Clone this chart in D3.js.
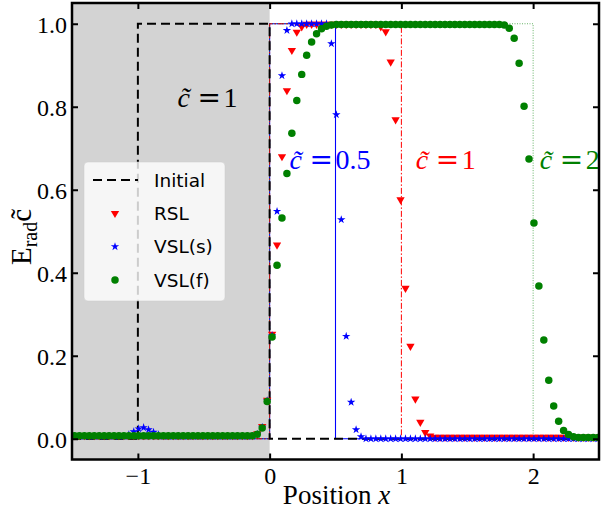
<!DOCTYPE html>
<html><head><meta charset="utf-8">
<script src="https://cdn.jsdelivr.net/npm/d3@7"></script>
<style>body{margin:0;background:#fff;} svg{display:block;}</style>
</head><body>
<script>
// ---------- data ----------
const cellStart = -1.5, cellWidth = 0.0375;   // cell-centred grid of the solver
const rslY = [
0.008,0.008,0.008,0.008,0.008,0.008,0.008,0.008,0.008,0.008,
0.008,0.008,0.008,0.008,0.008,0.008,0.008,0.008,0.008,0.008,
0.008,0.008,0.008,0.008,0.008,0.008,0.008,0.008,0.008,0.008,
0.008,0.008,0.008,0.008,0.008,0.008,0.008,0.012,0.030,0.093,
0.252,0.467,0.680,0.839,0.936,0.980,0.993,0.999,0.999,0.999,
0.999,0.999,0.999,0.999,0.999,0.999,0.999,0.999,0.999,0.999,
0.999,0.999,0.993,0.981,0.908,0.769,0.576,0.363,0.223,0.096,
0.040,0.015,0.007,0.004,0.004,0.004,0.004,0.004,0.004,0.004,
0.004,0.004,0.004,0.004,0.004,0.004,0.004,0.004,0.004,0.004,
0.004,0.004,0.004,0.004,0.004,0.004,0.004,0.004,0.004,0.004,
0.004,0.004,0.004,0.004,0.004,0.004,0.004];
const vslSY = [
0.006,0.006,0.006,0.006,0.006,0.006,0.006,0.006,0.006,0.006,
0.006,0.010,0.017,0.024,0.027,0.022,0.016,0.010,0.006,0.006,
0.006,0.006,0.006,0.006,0.006,0.006,0.006,0.006,0.006,0.006,
0.006,0.006,0.006,0.006,0.006,0.006,0.006,0.011,0.028,0.092,
0.249,0.548,0.875,0.984,1.000,1.000,1.000,1.000,1.000,1.000,
1.000,1.000,0.952,0.781,0.528,0.247,0.088,0.022,0.005,0.000,
0.000,0.000,0.000,0.000,0.000,0.000,0.000,0.000,0.000,0.000,
0.000,0.000,0.000,0.000,0.000,0.000,0.000,0.000,0.000,0.000,
0.000,0.000,0.000,0.000,0.000,0.000,0.000,0.000,0.000,0.000,
0.000,0.000,0.000,0.000,0.000,0.000,0.000,0.000,0.000,0.000,
0.000,0.000,0.000,0.000,0.000,0.000,0.000];
const vslFY = [
0.007,0.007,0.007,0.007,0.007,0.007,0.007,0.007,0.007,0.007,
0.007,0.007,0.007,0.007,0.007,0.007,0.007,0.007,0.007,0.007,
0.007,0.007,0.007,0.007,0.007,0.007,0.007,0.007,0.007,0.007,
0.007,0.007,0.007,0.007,0.007,0.007,0.007,0.011,0.026,0.090,
0.245,0.418,0.532,0.639,0.736,0.815,0.878,0.924,0.956,0.976,
0.988,0.994,0.997,0.998,0.998,0.998,0.998,0.998,0.998,0.998,
0.998,0.998,0.998,0.998,0.998,0.998,0.998,0.998,0.998,0.998,
0.998,0.998,0.998,0.998,0.998,0.998,0.998,0.998,0.998,0.998,
0.998,0.998,0.998,0.998,0.998,0.998,0.998,0.997,0.989,0.965,
0.905,0.801,0.674,0.520,0.368,0.238,0.141,0.079,0.042,0.020,
0.010,0.005,0.003,0.003,0.003,0.003,0.003];

const initialX = [-1.5, -1, -1, 0, 0, 2.5];
const initialY = [0, 0, 1, 1, 0, 0];
const exactY   = [0, 0, 1, 1, 0, 0];
const exactHalfX = [-1.5, 0, 0, 0.5, 0.5, 2.5];
const exactOneX  = [-1.5, 0, 0, 1, 1, 2.5];
const exactTwoX  = [-1.5, 0, 0, 2, 2, 2.5];
const shadeX = [-1.5, 0];
const xTicks = [-1, 0, 1, 2];
const yTicks = [0, 0.2, 0.4, 0.6, 0.8, 1.0];
const legendLabels = ["Initial", "RSL", "VSL(s)", "VSL(f)"];
const annotations = [
  {x: -0.7, y: 0.80, val: "1", color: "#000000"},
  {x: 0.15, y: 0.65, val: "0.5", color: "#0000ff"},
  {x: 1.11, y: 0.65, val: "1", color: "#ff0000"},
  {x: 2.05, y: 0.65, val: "2", color: "#008000"}
];

// ---------- layout ----------
const W = 605, H = 511;
const m = {left: 72, right: 599, top: 3, bottom: 459.5};
const svg = d3.select("body").append("svg").attr("width", W).attr("height", H);
const x = d3.scaleLinear().domain([-1.5, 2.5]).range([m.left, m.right]);
const y = d3.scaleLinear().domain([-0.05, 1.05]).range([m.bottom, m.top]);
const serif = "'Liberation Serif','Times New Roman',serif";
const sans = "'DejaVu Sans',sans-serif";

svg.append("defs").append("clipPath").attr("id", "clip")
  .append("rect").attr("x", m.left).attr("y", m.top)
  .attr("width", m.right - m.left).attr("height", m.bottom - m.top);

const plot = svg.append("g").attr("clip-path", "url(#clip)");

// shaded region
plot.append("rect").attr("x", x(shadeX[0])).attr("y", m.top)
  .attr("width", x(shadeX[1]) - x(shadeX[0])).attr("height", m.bottom - m.top)
  .attr("fill", "#d3d3d3");

const line = d3.line().x(d => x(d[0])).y(d => y(d[1]));
const zipXY = (xs, ys) => xs.map((v, i) => [v, ys[i]]);

plot.append("path").attr("d", line(zipXY(exactHalfX, exactY)))
  .attr("fill", "none").attr("stroke", "#0000ff").attr("stroke-width", 1.1);
plot.append("path").attr("d", line(zipXY(exactOneX, exactY)))
  .attr("fill", "none").attr("stroke", "#ff0000").attr("stroke-width", 1)
  .attr("stroke-dasharray", "6,2,1.5,2");
plot.append("path").attr("d", line(zipXY(exactTwoX, exactY)))
  .attr("fill", "none").attr("stroke", "#008000").attr("stroke-opacity", 0.6)
  .attr("stroke-width", 1).attr("stroke-dasharray", "1,1.5");
plot.append("path").attr("d", line(zipXY(initialX, initialY)))
  .attr("fill", "none").attr("stroke", "#000").attr("stroke-width", 2)
  .attr("stroke-dasharray", "9,5");

const cellX = i => cellStart + (i + 0.5) * cellWidth;
const triSym = d3.symbol().type(d3.symbolTriangle).size(30);
const starSym = d3.symbol().type(d3.symbolStar).size(22);
const circSym = d3.symbol().type(d3.symbolCircle).size(44);

plot.append("g").selectAll("path").data(rslY).join("path")
  .attr("d", triSym)
  .attr("transform", (d, i) => `translate(${x(cellX(i))},${y(d)}) rotate(180)`)
  .attr("fill", "#ff0000");
plot.append("g").selectAll("path").data(vslSY).join("path")
  .attr("d", starSym)
  .attr("transform", (d, i) => `translate(${x(cellX(i))},${y(d)})`)
  .attr("fill", "#0000ff");
plot.append("g").selectAll("path").data(vslFY).join("path")
  .attr("d", circSym)
  .attr("transform", (d, i) => `translate(${x(cellX(i))},${y(d)})`)
  .attr("fill", "#008000");

// annotations  c~ = value  (one text element each)
annotations.forEach(a => {
  const t = svg.append("text").attr("transform", `translate(${x(a.x)},${y(a.y)})`)
    .attr("fill", a.color).attr("font-family", serif).attr("font-size", 28);
  t.append("tspan").attr("x", 0).attr("font-style", "italic").text("c\u0303");
  t.append("tspan").attr("x", 20).attr("font-family", "'DejaVu Serif',serif").text("=");
  t.append("tspan").attr("x", 46).text(a.val);
});

// legend
const lg = svg.append("g");
lg.append("rect").attr("x", 84).attr("y", 162).attr("width", 141).attr("height", 139)
  .attr("rx", 4).attr("fill", "#fff").attr("fill-opacity", 0.8)
  .attr("stroke", "#ccc").attr("stroke-opacity", 0.5);
const rowY = i => 180 + i * 33.3;
lg.append("line").attr("x1", 93).attr("x2", 138).attr("y1", rowY(0)).attr("y2", rowY(0))
  .attr("stroke", "#000").attr("stroke-width", 2).attr("stroke-dasharray", "9,5");
lg.append("path").attr("d", triSym).attr("transform", `translate(115,${rowY(1)}) rotate(180)`).attr("fill", "#ff0000");
lg.append("path").attr("d", starSym).attr("transform", `translate(115,${rowY(2)})`).attr("fill", "#0000ff");
lg.append("path").attr("d", circSym).attr("transform", `translate(115,${rowY(3)})`).attr("fill", "#008000");
legendLabels.forEach((s, i) => {
  lg.append("text").attr("x", 154).attr("y", rowY(i)).attr("dy", "0.36em")
    .attr("font-family", sans).attr("font-size", 18.5).attr("fill", "#000").text(s);
});

// axes
const styleAxis = g => {
  g.select(".domain").remove();
  g.selectAll(".tick line").attr("stroke", "#000").attr("stroke-width", 2);
  g.selectAll(".tick text").attr("font-family", serif).attr("font-size", 24).attr("fill", "#000");
};
svg.append("g").attr("transform", `translate(0,${m.bottom})`)
  .call(d3.axisBottom(x).tickValues(xTicks).tickSize(-6).tickPadding(7).tickFormat(d3.format("d")))
  .call(styleAxis);
svg.append("g").attr("transform", `translate(0,${m.top})`)
  .call(d3.axisTop(x).tickValues(xTicks).tickSize(-6).tickFormat(""))
  .call(styleAxis);
svg.append("g").attr("transform", `translate(${m.left},0)`)
  .call(d3.axisLeft(y).tickValues(yTicks).tickSize(-6).tickPadding(5).tickFormat(d3.format(".1f")))
  .call(styleAxis)
  .call(g => g.selectAll(".tick text").attr("dy", "0.38em"));
svg.append("g").attr("transform", `translate(${m.right},0)`)
  .call(d3.axisRight(y).tickValues(yTicks).tickSize(-6).tickFormat(""))
  .call(styleAxis);

// frame
svg.append("rect").attr("x", m.left).attr("y", m.top)
  .attr("width", m.right - m.left).attr("height", m.bottom - m.top)
  .attr("fill", "none").attr("stroke", "#000").attr("stroke-width", 2.5);

// axis titles
const xt = svg.append("text").attr("x", (m.left + m.right) / 2 + 1).attr("y", 504)
  .attr("text-anchor", "middle").attr("font-family", serif).attr("font-size", 27);
xt.append("tspan").text("Position ");
xt.append("tspan").attr("font-style", "italic").text("x");

const yt = svg.append("text").attr("transform", "translate(31,237) rotate(-90)")
  .attr("text-anchor", "middle").attr("font-family", serif).attr("font-size", 29);
yt.append("tspan").text("E");
yt.append("tspan").attr("font-size", 20).attr("dy", 6).text("rad");
yt.append("tspan").attr("dy", -6).text("c\u0303");
</script>
</body></html>
